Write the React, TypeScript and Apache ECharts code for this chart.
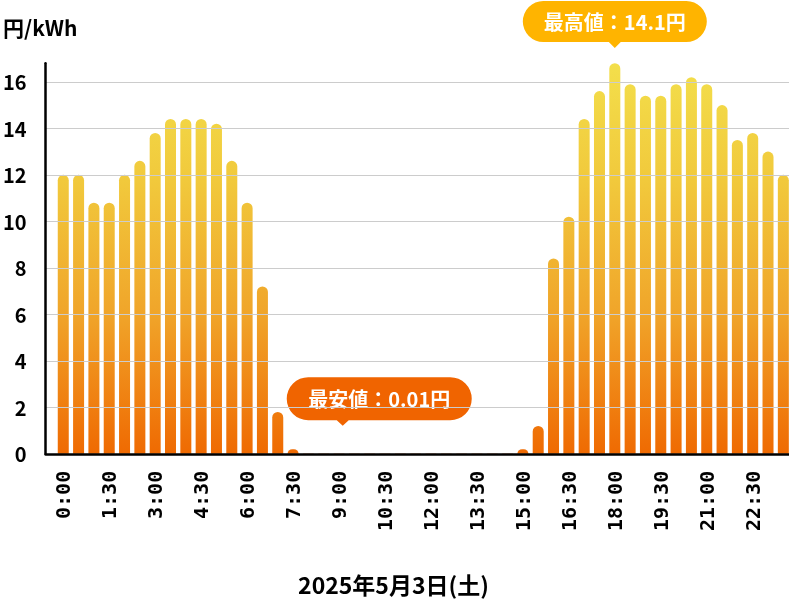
import React, { useEffect, useRef } from "react";
import * as echarts from "echarts";

const times = [
  "0:00", "0:30", "1:00", "1:30", "2:00", "2:30", "3:00", "3:30",
  "4:00", "4:30", "5:00", "5:30", "6:00", "6:30", "7:00", "7:30",
  "8:00", "8:30", "9:00", "9:30", "10:00", "10:30", "11:00", "11:30",
  "12:00", "12:30", "13:00", "13:30", "14:00", "14:30", "15:00", "15:30",
  "16:00", "16:30", "17:00", "17:30", "18:00", "18:30", "19:00", "19:30",
  "20:00", "20:30", "21:00", "21:30", "22:00", "22:30", "23:00", "23:30",
];

const prices = [
  12.0, 12.0, 10.8, 10.8, 12.0, 12.6, 13.8, 14.4,
  14.4, 14.4, 14.2, 12.6, 10.8, 7.2, 1.8, 0.2,
  0.01, 0.01, 0.01, 0.01, 0.01, 0.01, 0.01, 0.01,
  0.01, 0.01, 0.01, 0.01, 0.01, 0.01, 0.2, 1.2,
  8.4, 10.2, 14.4, 15.6, 16.8, 15.9, 15.4, 15.4,
  15.9, 16.2, 15.9, 15.0, 13.5, 13.8, 13.0, 12.0,
];

const yTicks = [0, 2, 4, 6, 8, 10, 12, 14, 16];
const unitLabel = "円/kWh";
const dateLabel = "2025年5月3日(土)";
const maxLabel = "最高値：14.1円";
const minLabel = "最安値：0.01円";
const minLabelTime = "9:00";

const PILL_MAX =
  "path://M20.5,0 L163.5,0 A20.5,20.5 0 0 1 163.5,41 L98,41 L92,47 L86,41 L20.5,41 A20.5,20.5 0 0 1 20.5,0 Z";
const PILL_MIN =
  "path://M21.5,0 L163.5,0 A21.5,21.5 0 0 1 163.5,43 L62,43 L56,48.5 L50,43 L21.5,43 A21.5,21.5 0 0 1 21.5,0 Z";

export default function App() {
  const ref = useRef<HTMLDivElement>(null);

  useEffect(() => {
    document.body.style.overflow = "hidden";
    const chart = echarts.init(ref.current!, null, { renderer: "svg" });
    const maxVal = Math.max(...prices);
    const maxIdx = prices.indexOf(maxVal);
    const minIdx = times.indexOf(minLabelTime);
    const yFont = "'Noto Sans CJK JP', 'Noto Sans', sans-serif";

    const gradient = new echarts.graphic.LinearGradient(
      0, 63, 0, 454,
      [
        { offset: 0, color: "#F3DF4B" },
        { offset: 0.3, color: "#F1C93C" },
        { offset: 0.64, color: "#F0A52A" },
        { offset: 1, color: "#EF6A02" },
      ],
      true
    );

    chart.setOption({
      animation: false,
      grid: [
        { left: 44, right: 0, top: 63.2, bottom: 147.2 },
        { left: 55.6, right: 0, top: 63.2, bottom: 147.2 },
      ],
      xAxis: [
        {
          gridIndex: 0,
          type: "value",
          min: 0,
          max: 1,
          z: 10,
          axisLine: { show: true, lineStyle: { color: "#000", width: 2.5 } },
          axisTick: { show: false },
          axisLabel: { show: false },
          splitLine: { show: false },
        },
        {
          gridIndex: 1,
          type: "category",
          data: times,
          axisLine: { show: false },
          axisTick: { show: false },
          axisLabel: {
            interval: 2,
            rotate: 90,
            margin: 17,
            color: "#000",
            fontFamily: "'DejaVu Sans Mono', monospace",
            fontWeight: "bold",
            fontSize: 20,
          },
        },
      ],
      yAxis: [
        {
          gridIndex: 0,
          type: "value",
          min: yTicks[0],
          max: maxVal,
          interval: 2,
          z: 10,
          axisLine: { show: true, lineStyle: { color: "#000", width: 2.5 } },
          axisTick: { show: false },
          axisLabel: {
            showMaxLabel: false,
            margin: 19,
            color: "#000",
            fontFamily: yFont,
            fontWeight: "bold",
            fontSize: 20,
            formatter: (v: number) => (yTicks.includes(v) ? String(v) : ""),
          },
          splitLine: {
            show: true,
            showMaxLine: false,
            lineStyle: { color: "#CCCCCC", width: 1 },
          },
        },
        {
          gridIndex: 1,
          type: "value",
          min: yTicks[0],
          max: maxVal,
          show: false,
          splitLine: { show: false },
        },
      ],
      graphic: [
        {
          type: "text",
          x: 3,
          y: 27,
          style: {
            text: unitLabel,
            fill: "#000",
            font: `bold 21px ${yFont}`,
            textVerticalAlign: "middle",
            lineHeight: 22,
          },
        },
        {
          type: "text",
          x: 393.5,
          y: 584,
          style: {
            text: dateLabel,
            fill: "#000",
            font: `bold 23px ${yFont}`,
            textAlign: "center",
            textVerticalAlign: "middle",
            lineHeight: 23,
          },
        },
      ],
      series: [
        {
          type: "bar",
          xAxisIndex: 1,
          yAxisIndex: 1,
          data: prices,
          barWidth: 11,
          clip: false,
          silent: true,
          itemStyle: {
            color: gradient,
            borderRadius: [5.5, 5.5, 0, 0],
          },
          markPoint: {
            silent: true,
            data: [
              {
                coord: [maxIdx, maxVal],
                symbol: PILL_MAX,
                symbolSize: [184, 47],
                symbolOffset: [0, -38.7],
                itemStyle: { color: "#FFB400" },
                label: { formatter: maxLabel },
              },
              {
                coord: [minIdx, prices[minIdx]],
                symbol: PILL_MIN,
                symbolSize: [185, 48.5],
                symbolOffset: [40.2, -52.1],
                itemStyle: { color: "#F06400" },
                label: { formatter: minLabel },
              },
            ],
            label: {
              show: true,
              position: "inside",
              offset: [0, -3],
              color: "#FFFFFF",
              fontFamily: yFont,
              fontWeight: "bold",
              fontSize: 20,
            },
          },
        },
      ],
    });

    return () => chart.dispose();
  }, []);

  return (
    <div
      ref={ref}
      style={{ position: "fixed", left: 0, top: 0, width: 791, height: 601 }}
    />
  );
}
